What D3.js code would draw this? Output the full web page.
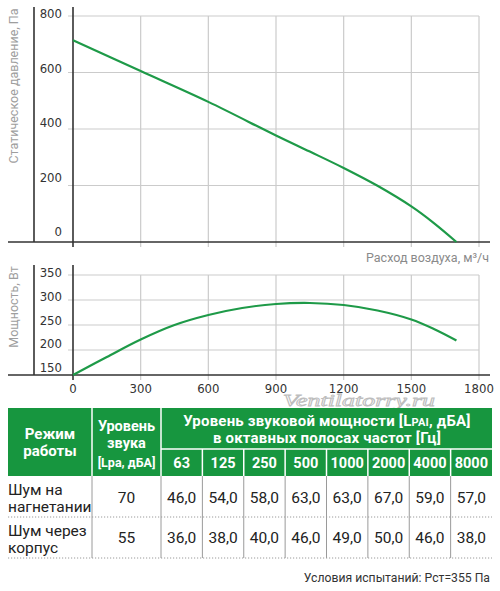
<!DOCTYPE html>
<html><head><meta charset="utf-8">
<script src="https://cdn.jsdelivr.net/npm/d3@7/dist/d3.min.js"></script>
<style>
html,body{margin:0;padding:0;background:#fff;}
svg{display:block;}
</style></head>
<body>
<svg id="c" width="500" height="591"></svg>
<script>
// ---- data ----
const flowTicks = [0, 300, 600, 900, 1200, 1500, 1800];
const pressureTicks = [0, 200, 400, 600, 800];
const powerTicks = [150, 200, 250, 300, 350];

const pressureFlow = [0, 300, 600, 900, 1050, 1200, 1350, 1500, 1600, 1700];
const pressure = [714, 605, 496, 377, 320, 262, 199, 126, 67, 0];

const powerFlow = [0, 150, 300, 450, 600, 750, 900, 1050, 1200, 1350, 1500, 1600, 1700];
const power = [150, 186, 221, 250, 270, 284, 292, 294, 290, 279, 261, 242, 219];

const freqs = ["63", "125", "250", "500", "1000", "2000", "4000", "8000"];
const modes = [["Шум на", "нагнетании"], ["Шум через", "корпус"]];
const totalLevels = [70, 55];
const bandLevels = [
  [46, 54, 58, 63, 63, 67, 59, 57],
  [36, 38, 40, 46, 49, 50, 46, 38]
];

// ---- drawing ----
const svg = d3.select("#c");
const GREEN = "#17963f", LINE = "#1e9a48", GRID = "#cbcbcb", AX = "#333";
const numFont = "'Liberation Sans Narrow','DejaVu Sans Condensed',Roboto,sans-serif";
const txtFont = "Roboto,'Open Sans',sans-serif";

const x = d3.scaleLinear([0, 1800], [73, 479]);
const yP = d3.scaleLinear([0, 800], [242, 16]);
const yPLabel = d3.scaleLinear([0, 800], [236, 18]);
const yW = d3.scaleLinear([150, 350], [375, 275]);
const yWLabel = d3.scaleLinear([150, 350], [372, 277]);

function panel(y, yLab, ticks, top, bottom, axisTop) {
  const g = svg.append("g");
  g.selectAll("line.h").data(ticks.filter(t => y(t) < bottom - 1)).join("line")
    .attr("x1", 68).attr("x2", x(1800)).attr("y1", d => y(d)).attr("y2", d => y(d))
    .attr("stroke", GRID).attr("stroke-width", 1.2);
  g.selectAll("line.v").data(flowTicks.slice(1)).join("line")
    .attr("x1", d => x(d)).attr("x2", d => x(d)).attr("y1", top).attr("y2", bottom + 5)
    .attr("stroke", GRID).attr("stroke-width", 1.2);
  g.append("line").attr("x1", 8).attr("x2", 490).attr("y1", bottom).attr("y2", bottom)
    .attr("stroke", AX).attr("stroke-width", 1.6);
  g.append("line").attr("x1", x(0)).attr("x2", x(0)).attr("y1", axisTop).attr("y2", bottom + 5)
    .attr("stroke", AX).attr("stroke-width", 1.6);
  g.append("line").attr("x1", 34).attr("x2", 34).attr("y1", axisTop).attr("y2", bottom)
    .attr("stroke", AX).attr("stroke-width", 1.6);
  g.selectAll("text.yl").data(ticks).join("text")
    .attr("x", 62).attr("y", d => yLab(d)).attr("text-anchor", "end")
    .attr("font-family", numFont).attr("font-size", 13).attr("fill", AX)
    .text(d => d);
  return g;
}

panel(yP, yPLabel, pressureTicks, yP(800), yP(0), 7);
panel(yW, yWLabel, powerTicks, yW(350), yW(150), 265);

svg.selectAll("text.xl").data(flowTicks).join("text")
  .attr("x", d => x(d)).attr("y", 393).attr("text-anchor", "middle")
  .attr("font-family", numFont).attr("font-size", 13).attr("fill", AX)
  .text(d => d);

// curves
const pData = pressureFlow.map((f, i) => [f, pressure[i]]);
const wData = powerFlow.map((f, i) => [f, power[i]]);
svg.append("path").datum(pData)
  .attr("d", d3.line().x(d => x(d[0])).y(d => yP(d[1])).curve(d3.curveCatmullRom.alpha(0.5)))
  .attr("fill", "none").attr("stroke", LINE).attr("stroke-width", 2.2);
svg.append("path").datum(wData)
  .attr("d", d3.line().x(d => x(d[0])).y(d => yW(d[1])).curve(d3.curveCatmullRom.alpha(0.5)))
  .attr("fill", "none").attr("stroke", LINE).attr("stroke-width", 2.2);

// axis titles
svg.append("text").attr("transform", "translate(18,86) rotate(-90)")
  .attr("text-anchor", "middle").attr("font-family", txtFont).attr("font-size", 12.5)
  .attr("fill", "#9e9e9e").text("Статическое давление, Па");
svg.append("text").attr("transform", "translate(18,307) rotate(-90)")
  .attr("text-anchor", "middle").attr("font-family", txtFont).attr("font-size", 12.5)
  .attr("fill", "#9e9e9e").text("Мощность, Вт");
svg.append("text").attr("x", 489).attr("y", 262).attr("text-anchor", "end")
  .attr("font-family", txtFont).attr("font-size", 12.5).attr("fill", "#8a8a8a")
  .text("Расход воздуха, м³/ч");

// watermark
svg.append("text").attr("x", 283).attr("y", 406)
  .attr("font-family", "'Liberation Serif',serif").attr("font-style", "italic")
  .attr("font-size", 16.5).attr("textLength", 152).attr("lengthAdjust", "spacingAndGlyphs")
  .attr("fill", "#fff").attr("stroke", "#bdbdbd").attr("stroke-width", 0.8)
  .text("Ventilatorry.ru");

// ---- table ----
const T = svg.append("g");
const tTop = 408, tSplit = 449, tHead = 476, tRow = 517, tEnd = 558;
const band = d3.scaleBand(freqs, [161, 492]);
T.append("rect").attr("x", 8).attr("y", tTop).attr("width", 484).attr("height", tHead - tTop).attr("fill", GREEN);
[92, 161].forEach(v => T.append("line").attr("x1", v).attr("x2", v).attr("y1", tTop).attr("y2", tHead)
  .attr("stroke", "#fff").attr("stroke-width", 1.5));
T.append("line").attr("x1", 161).attr("x2", 492).attr("y1", tSplit).attr("y2", tSplit)
  .attr("stroke", "#fff").attr("stroke-width", 1.5);
T.selectAll("line.fd").data(freqs.slice(1)).join("line")
  .attr("x1", d => band(d)).attr("x2", d => band(d)).attr("y1", tSplit).attr("y2", tHead)
  .attr("stroke", "#fff").attr("stroke-width", 1.5);
T.selectAll("line.bd").data([92, 161].concat(freqs.slice(1).map(f => band(f)))).join("line")
  .attr("x1", d => d).attr("x2", d => d).attr("y1", tHead).attr("y2", tEnd)
  .attr("stroke", "#9a9a9a").attr("stroke-width", 1);
[tRow, tEnd].forEach(v => T.append("line").attr("x1", 8).attr("x2", 492).attr("y1", v).attr("y2", v)
  .attr("stroke", "#9a9a9a").attr("stroke-width", 1).attr("stroke-dasharray", "1.2,1.8"));

const hdr = (xx, yy, t, size, ls) => T.append("text").attr("x", xx).attr("y", yy).attr("text-anchor", "middle")
  .attr("font-family", txtFont).attr("font-weight", "bold").attr("font-size", size || 14.5)
  .attr("letter-spacing", ls || 0).attr("fill", "#fff").text(t);
hdr(50, 439, "Режим", 15);
hdr(50, 456, "работы", 15);
hdr(126.5, 431, "Уровень");
hdr(126.5, 448, "звука");
hdr(126.5, 467, "[Lpa, дБА]", 12.5);
const h1 = hdr(327, 426, "Уровень звуковой мощности [L", 15, 0.2);
h1.append("tspan").attr("font-size", 11).text("PAI");
h1.append("tspan").text(", дБА]");
hdr(327, 443, "в октавных полосах частот [Гц]", 15, 0.2);
T.selectAll("text.fq").data(freqs).join("text")
  .attr("x", d => band(d) + band.bandwidth() / 2).attr("y", 468).attr("text-anchor", "middle")
  .attr("font-family", txtFont).attr("font-weight", "bold").attr("font-size", 14.5).attr("fill", "#fff")
  .text(d => d);

const fmt = v => d3.format(".1f")(v).replace(".", ",");
const rowBase = [503, 543];
modes.forEach((m, i) => {
  const top = i === 0 ? tHead : tRow;
  T.append("text").attr("x", 8).attr("y", top + 19).attr("font-family", txtFont).attr("font-size", 15.5)
    .attr("fill", "#222").text(m[0]);
  T.append("text").attr("x", 8).attr("y", top + 36).attr("font-family", txtFont).attr("font-size", 15.5)
    .attr("fill", "#222").text(m[1]);
  T.append("text").attr("x", 126.5).attr("y", rowBase[i]).attr("text-anchor", "middle")
    .attr("font-family", txtFont).attr("font-size", 15.5).attr("fill", "#222").text(totalLevels[i]);
  T.selectAll("text.v" + i).data(bandLevels[i]).join("text")
    .attr("x", (d, j) => band(freqs[j]) + band.bandwidth() / 2).attr("y", rowBase[i])
    .attr("text-anchor", "middle").attr("font-family", txtFont).attr("font-size", 15.5)
    .attr("fill", "#222").text(d => fmt(d));
});

svg.append("text").attr("x", 490).attr("y", 582).attr("text-anchor", "end")
  .attr("font-family", txtFont).attr("font-size", 12.2).attr("fill", "#333")
  .text("Условия испытаний: Рст=355 Па");
</script>
</body></html>
